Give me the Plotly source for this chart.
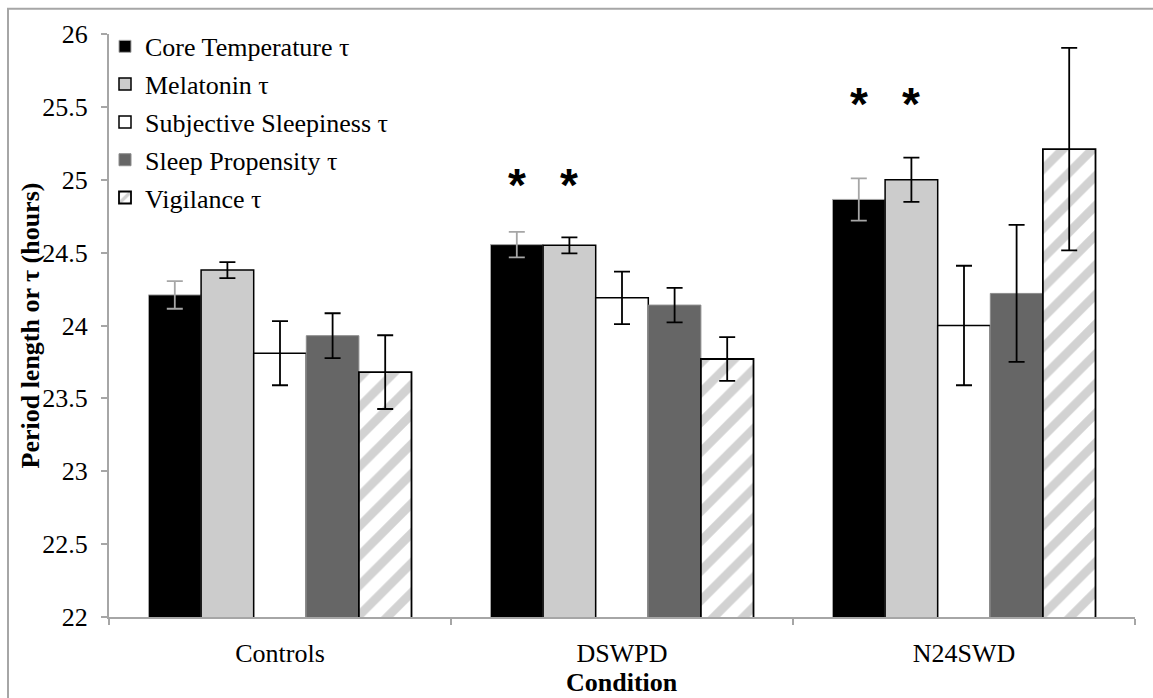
import plotly.graph_objects as go

# ---------------- data ----------------
conditions = ["Controls", "DSWPD", "N24SWD"]
series_names = ["Core Temperature τ", "Melatonin τ", "Subjective Sleepiness τ",
                "Sleep Propensity τ", "Vigilance τ"]

core = [24.21, 24.555, 24.865]
core_err = [0.095, 0.088, 0.145]
melatonin = [24.38, 24.55, 25.00]
melatonin_err = [0.055, 0.055, 0.152]
subjective = [23.81, 24.19, 24.00]
subjective_err = [0.22, 0.18, 0.41]
sleep_prop = [23.93, 24.14, 24.22]
sleep_prop_err = [0.154, 0.118, 0.47]
vigilance = [23.68, 23.77, 25.21]
vigilance_err = [0.253, 0.15, 0.695]

# significance markers: which series get a star, and the star height per condition
sig_series = [0, 1]
sig_y = [None, 25.01, 25.57]

y_ticks = [22, 22.5, 23, 23.5, 24, 24.5, 25, 25.5, 26]

values = [core, melatonin, subjective, sleep_prop, vigilance]
errors = [core_err, melatonin_err, subjective_err, sleep_prop_err, vigilance_err]

# ---------------- styles ----------------
FONT = "Liberation Serif, Times New Roman, serif"
fills = ["#000000", "#cccccc", "#ffffff", "#666666", "#ffffff"]
outlines = ["#a6a6a6", "#000000", "#000000", "#8c8c8c", "#000000"]
outline_w = [1, 1.5, 1.5, 1, 1.8]
err_colors = ["#a6a6a6", "#000000", "#000000", "#000000", "#000000"]
BARGAP = 0.231

fig = go.Figure()
for k in range(5):
    marker = dict(color=fills[k], line=dict(color=outlines[k], width=outline_w[k]))
    if k == 4:
        marker["pattern"] = dict(shape="/", fgcolor="#a6a6a6", bgcolor="#ffffff",
                                 size=21, solidity=0.42, fillmode="overlay")
    fig.add_trace(go.Bar(
        x=conditions, y=values[k], name=series_names[k], marker=marker,
        legendgroup=str(k),
        error_y=dict(type="data", array=errors[k], visible=True,
                     color=err_colors[k], thickness=1.8, width=8),
    ))

# significance stars, positioned from bar slots
bw = (1 - BARGAP) / 5
for ci, yv in enumerate(sig_y):
    if yv is None:
        continue
    for k in sig_series:
        fig.add_annotation(x=ci + (k - 2) * bw, y=yv, xref="x", yref="y",
                           text="<b>*</b>", showarrow=False,
                           font=dict(family="Liberation Sans", size=46, color="black"),
                           yshift=-7)

# axis titles as annotations
fig.add_annotation(text="<b>Period length or τ (hours)</b>", textangle=-90,
                   xref="paper", yref="paper", x=(30 - 109) / 1026, y=0.5,
                   xanchor="center", yanchor="middle",
                   showarrow=False, font=dict(family=FONT, size=26, color="black"))
fig.add_annotation(text="<b>Condition</b>",
                   xref="paper", yref="paper", x=0.5, y=(617.5 - 683) / 583.2,
                   xanchor="center", yanchor="middle",
                   showarrow=False, font=dict(family=FONT, size=26, color="black"))

# outer frame
fig.add_shape(type="rect", xref="paper", yref="paper",
              x0=(8 - 109) / 1026, x1=(1165 - 109) / 1026,
              y0=(617.5 - 710) / 583.2, y1=(617.5 - 9) / 583.2,
              line=dict(color="#a6a6a6", width=2), fillcolor="rgba(0,0,0,0)", layer="below")

fig.update_layout(
    width=1153, height=698,
    margin=dict(l=109, r=18, t=34.3, b=80.5),
    paper_bgcolor="white", plot_bgcolor="white",
    barmode="group", bargap=BARGAP, bargroupgap=0,
    font=dict(family=FONT, size=26, color="black"),
    showlegend=True,
    legend=dict(x=(105 - 109) / 1026, y=1.019, xanchor="left", yanchor="top",
                bgcolor="rgba(0,0,0,0)", font=dict(family=FONT, size=26, color="black"),
                traceorder="grouped", tracegroupgap=1, itemclick=False),
    xaxis=dict(type="category", showline=True, linecolor="#a6a6a6", linewidth=2,
               ticks="outside", tickson="boundaries", ticklen=6, tickcolor="#a6a6a6",
               tickwidth=2, showgrid=False, zeroline=False, ticklabelstandoff=12,
               tickfont=dict(family=FONT, size=26, color="black")),
    yaxis=dict(range=[22, 26], tickvals=y_ticks, ticktext=[f"{t:g}" for t in y_ticks],
               showline=True, linecolor="#a6a6a6", linewidth=2,
               ticks="outside", ticklen=6, tickcolor="#a6a6a6", tickwidth=2,
               showgrid=False, zeroline=False, ticklabelstandoff=8,
               tickfont=dict(family=FONT, size=26, color="black")),
)

fig.write_html("out.html")
